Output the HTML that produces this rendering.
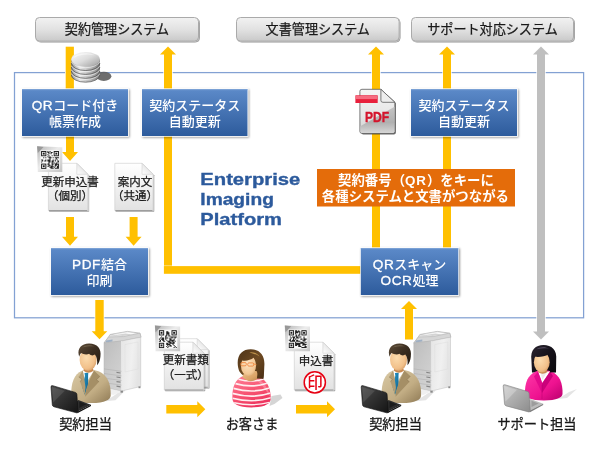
<!DOCTYPE html>
<html lang="ja">
<head>
<meta charset="utf-8">
<title>Enterprise Imaging Platform</title>
<style>
html,body{margin:0;padding:0;background:#fff;}
body{width:600px;height:450px;overflow:hidden;}
svg{display:block;}
svg text{font-family:'Liberation Sans','Noto Sans CJK JP',sans-serif;}
svg{will-change:transform;transform:translateZ(0);}
</style>
</head>
<body>
<svg width="600" height="450" viewBox="0 0 600 450">
<defs>
<linearGradient id="gGray" x1="0" y1="0" x2="0" y2="1">
  <stop offset="0" stop-color="#f2f2f2"/><stop offset="0.5" stop-color="#e2e2e2"/><stop offset="1" stop-color="#c9c9c9"/>
</linearGradient>
<linearGradient id="gBlue" x1="0" y1="0" x2="0" y2="1">
  <stop offset="0" stop-color="#5c8ac9"/><stop offset="1" stop-color="#2d5b9c"/>
</linearGradient>
<linearGradient id="gDoc" x1="0" y1="0" x2="0" y2="1">
  <stop offset="0" stop-color="#ffffff"/><stop offset="1" stop-color="#e2e2e2"/>
</linearGradient>
<linearGradient id="gPdf" x1="0" y1="0" x2="0" y2="1">
  <stop offset="0" stop-color="#f4f4f4"/><stop offset="0.6" stop-color="#e6e6e6"/><stop offset="1" stop-color="#cfcfcf"/>
</linearGradient>
<linearGradient id="gDisk" x1="0" y1="0" x2="1" y2="0">
  <stop offset="0" stop-color="#8e8e8e"/><stop offset="0.3" stop-color="#e6e6e6"/><stop offset="0.65" stop-color="#b8b8b8"/><stop offset="1" stop-color="#7a7a7a"/>
</linearGradient>
<linearGradient id="gDiskTop" x1="0" y1="0" x2="1" y2="1">
  <stop offset="0" stop-color="#fbfbfb"/><stop offset="0.5" stop-color="#dcdcdc"/><stop offset="1" stop-color="#9c9c9c"/>
</linearGradient>
<radialGradient id="gSkin" cx="0.4" cy="0.4" r="0.7">
  <stop offset="0" stop-color="#fcdcae"/><stop offset="0.7" stop-color="#f1c08a"/><stop offset="1" stop-color="#d29860"/>
</radialGradient>
<linearGradient id="gSuit" x1="0" y1="0" x2="1" y2="1">
  <stop offset="0" stop-color="#d9c9a5"/><stop offset="0.6" stop-color="#c2ad84"/><stop offset="1" stop-color="#8f7a55"/>
</linearGradient>
<linearGradient id="gMag" x1="0" y1="0" x2="1" y2="1">
  <stop offset="0" stop-color="#ff3aa8"/><stop offset="0.6" stop-color="#ee1290"/><stop offset="1" stop-color="#b8006c"/>
</linearGradient>
<linearGradient id="gPink" x1="0.2" y1="0" x2="0.7" y2="1">
  <stop offset="0" stop-color="#ff7a92"/><stop offset="0.55" stop-color="#f6506f"/><stop offset="1" stop-color="#ec2f5c"/>
</linearGradient>
<linearGradient id="gNeckC" x1="0" y1="0" x2="1" y2="1">
  <stop offset="0" stop-color="#eec08a"/><stop offset="0.6" stop-color="#dba468"/><stop offset="1" stop-color="#b98248"/>
</linearGradient>
<linearGradient id="gPrnF" x1="0" y1="0" x2="1" y2="0.3">
  <stop offset="0" stop-color="#e6e6e6"/><stop offset="0.6" stop-color="#f0f0f0"/><stop offset="1" stop-color="#e4e4e4"/>
</linearGradient>
<linearGradient id="gPrnS" x1="0" y1="0" x2="0.6" y2="1">
  <stop offset="0" stop-color="#bcbcbc"/><stop offset="0.5" stop-color="#c8c8c8"/><stop offset="1" stop-color="#d2d2d2"/>
</linearGradient>
<linearGradient id="gLapG" x1="0" y1="0" x2="1" y2="1">
  <stop offset="0" stop-color="#c8c8c8"/><stop offset="1" stop-color="#8c8c8c"/>
</linearGradient>
<linearGradient id="gLapB" x1="0" y1="0" x2="1" y2="1">
  <stop offset="0" stop-color="#4a4a4a"/><stop offset="1" stop-color="#141414"/>
</linearGradient>
<filter id="sh" x="-10%" y="-10%" width="125%" height="130%">
  <feGaussianBlur in="SourceAlpha" stdDeviation="0.9"/>
  <feOffset dx="0.6" dy="1.3"/>
  <feComponentTransfer><feFuncA type="linear" slope="0.42"/></feComponentTransfer>
  <feMerge><feMergeNode/><feMergeNode in="SourceGraphic"/></feMerge>
</filter>
<filter id="shs" x="-10%" y="-10%" width="125%" height="130%">
  <feGaussianBlur in="SourceAlpha" stdDeviation="0.7"/>
  <feOffset dx="0.5" dy="0.8"/>
  <feComponentTransfer><feFuncA type="linear" slope="0.35"/></feComponentTransfer>
  <feMerge><feMergeNode/><feMergeNode in="SourceGraphic"/></feMerge>
</filter>
<filter id="blur1"><feGaussianBlur stdDeviation="1.2"/></filter>
<filter id="blur05" x="-30%" y="-30%" width="160%" height="160%"><feGaussianBlur stdDeviation="0.7"/></filter>
<linearGradient id="gQr" x1="0" y1="0" x2="1" y2="1">
  <stop offset="0" stop-color="#b4b4b4"/><stop offset="0.45" stop-color="#ececec"/><stop offset="1" stop-color="#c4c4c4"/>
</linearGradient>
<linearGradient id="gFold" x1="0" y1="1" x2="1" y2="0">
  <stop offset="0" stop-color="#ffffff"/><stop offset="0.5" stop-color="#e9e9e9"/><stop offset="1" stop-color="#d2d2d2"/>
</linearGradient>
<linearGradient id="gPdf2" x1="0" y1="0" x2="0" y2="1">
  <stop offset="0" stop-color="#c4c4c4"/><stop offset="0.6" stop-color="#b0b0b0"/><stop offset="1" stop-color="#d6d6d6"/>
</linearGradient>
<linearGradient id="gTie" x1="0" y1="0" x2="1" y2="1">
  <stop offset="0" stop-color="#2a9acb"/><stop offset="1" stop-color="#0d5f8a"/>
</linearGradient>
<linearGradient id="gHairM" x1="0" y1="0" x2="1" y2="1">
  <stop offset="0" stop-color="#5e4c38"/><stop offset="0.5" stop-color="#3a2d20"/><stop offset="1" stop-color="#221910"/>
</linearGradient>
<linearGradient id="gHairW" x1="0" y1="0" x2="1" y2="1">
  <stop offset="0" stop-color="#2a2430"/><stop offset="0.5" stop-color="#15121a"/><stop offset="1" stop-color="#0a090c"/>
</linearGradient>
<linearGradient id="gHairC" x1="0" y1="0" x2="1" y2="1">
  <stop offset="0" stop-color="#4e3418"/><stop offset="0.5" stop-color="#6e4a22"/><stop offset="1" stop-color="#4a2f14"/>
</linearGradient>
<radialGradient id="gSkinC" cx="0.45" cy="0.4" r="0.75">
  <stop offset="0" stop-color="#fde4c4"/><stop offset="0.65" stop-color="#f3c896"/><stop offset="1" stop-color="#cf9a62"/>
</radialGradient>
<clipPath id="cpCust"><path d="M-5,50 C-5.6,39.5 -3,31.5 4.4,27.6 C9,29 17,29.4 22,28 C29.6,31.5 33.6,39.5 33.2,50 C33,54.6 27.5,58.4 14,58.4 C0.6,58.4 -4.8,54.6 -5,50 Z"/></clipPath>
</defs>
<rect width="600" height="450" fill="#fff"/>
<rect x="14.5" y="72.6" width="569.1" height="245.2" fill="none" stroke="#83a1d3" stroke-width="1.25"/>
<rect x="65.7" y="46.7" width="8.2" height="43" fill="#ffc000" stroke="#fff" stroke-width="1.4" paint-order="stroke"/>
<path d="M168,46.5 L176,54.5 L172,54.5 L172,270 L164,270 L164,54.5 L160,54.5 Z" fill="#ffc000" stroke="#fff" stroke-width="1.4" paint-order="stroke"/>
<rect x="163.9" y="266.1" width="198" height="7.7" fill="#ffc000" stroke="#fff" stroke-width="1.4" paint-order="stroke" stroke-opacity="0.6"/>
<path d="M376,46.5 L384,54.5 L380,54.5 L380,249 L372,249 L372,54.5 L368,54.5 Z" fill="#ffc000" stroke="#fff" stroke-width="1.4" paint-order="stroke"/>
<path d="M447,46.5 L455,54.5 L451,54.5 L451,249 L443,249 L443,54.5 L439,54.5 Z" fill="#ffc000" stroke="#fff" stroke-width="1.4" paint-order="stroke"/>
<path d="M541,46.5 L549,54.5 L545,54.5 L545,331.5 L549,331.5 L541,339.5 L533,331.5 L537,331.5 L537,54.5 L533,54.5 Z" fill="#bfbfbf" stroke="#fff" stroke-width="1.4" paint-order="stroke"/>
<path d="M70,161 L78,152 L74,152 L74,135 L66,135 L66,152 L62,152 Z" fill="#ffc000" stroke="#fff" stroke-width="1.4" paint-order="stroke"/>
<path d="M70,245.7 L78,236.7 L74,236.7 L74,217 L66,217 L66,236.7 L62,236.7 Z" fill="#ffc000" stroke="#fff" stroke-width="1.4" paint-order="stroke"/>
<path d="M133.6,245.7 L141.6,236.7 L137.6,236.7 L137.6,217 L129.6,217 L129.6,236.7 L125.6,236.7 Z" fill="#ffc000" stroke="#fff" stroke-width="1.4" paint-order="stroke"/>
<path d="M99.5,339.2 L107.3,331.2 L103.7,331.2 L103.7,300 L95.3,300 L95.3,331.2 L91.7,331.2 Z" fill="#ffc000" stroke="#fff" stroke-width="1.4" paint-order="stroke"/>
<path d="M409,301 L417,309 L413,309 L413,339.5 L405,339.5 L405,309 L401,309 Z" fill="#ffc000" stroke="#fff" stroke-width="1.4" paint-order="stroke"/>
<path d="M205.3,409.3 L197.3,401.3 L197.3,405.1 L166.3,405.1 L166.3,413.5 L197.3,413.5 L197.3,417.3 Z" fill="#ffc000"/>
<path d="M335,409.3 L327,401.3 L327,405.1 L296,405.1 L296,413.5 L327,413.5 L327,417.3 Z" fill="#ffc000"/>
<g filter="url(#shs)"><rect x="35.5" y="17.5" width="163" height="23.6" rx="4" ry="4" fill="url(#gGray)" stroke="#aaaaaa" stroke-width="1"/></g><text x="117.0" y="34.3" font-size="13.1" text-anchor="middle" fill="#1a1a1a" stroke="#1a1a1a" stroke-width="0.25">契約管理システム</text>
<g filter="url(#shs)"><rect x="236.5" y="17.5" width="162.60000000000002" height="23.6" rx="4" ry="4" fill="url(#gGray)" stroke="#aaaaaa" stroke-width="1"/></g><text x="317.8" y="34.3" font-size="13.1" text-anchor="middle" fill="#1a1a1a" stroke="#1a1a1a" stroke-width="0.25">文書管理システム</text>
<g filter="url(#shs)"><rect x="411.5" y="17.5" width="162" height="23.6" rx="4" ry="4" fill="url(#gGray)" stroke="#aaaaaa" stroke-width="1"/></g><text x="492.5" y="34.3" font-size="13.1" text-anchor="middle" fill="#1a1a1a" stroke="#1a1a1a" stroke-width="0.25">サポート対応システム</text>
<g filter="url(#sh)"><rect x="21.4" y="88.4" width="107.2" height="48.2" fill="#fff"/></g><rect x="22" y="89" width="106" height="47" fill="url(#gBlue)"/><rect x="22" y="89" width="106" height="1.2" fill="#8fb0de" opacity="0.6"/><text x="75.0" y="109.8" font-size="13" font-weight="500" text-anchor="middle" fill="#fff"><tspan font-size="13.6" letter-spacing="0.55" stroke="#fff" stroke-width="0.3">QR</tspan>コード付き</text><text x="75.0" y="126.3" font-size="13" font-weight="500" text-anchor="middle" fill="#fff">帳票作成</text>
<g filter="url(#sh)"><rect x="141.4" y="88.4" width="106.7" height="48.2" fill="#fff"/></g><rect x="142" y="89" width="105.5" height="47" fill="url(#gBlue)"/><rect x="142" y="89" width="105.5" height="1.2" fill="#8fb0de" opacity="0.6"/><text x="194.75" y="109.8" font-size="13" font-weight="500" text-anchor="middle" fill="#fff">契約ステータス</text><text x="194.75" y="126.3" font-size="13" font-weight="500" text-anchor="middle" fill="#fff">自動更新</text>
<g filter="url(#sh)"><rect x="410.4" y="88.4" width="107.2" height="48.2" fill="#fff"/></g><rect x="411" y="89" width="106" height="47" fill="url(#gBlue)"/><rect x="411" y="89" width="106" height="1.2" fill="#8fb0de" opacity="0.6"/><text x="464.0" y="109.8" font-size="13" font-weight="500" text-anchor="middle" fill="#fff">契約ステータス</text><text x="464.0" y="126.3" font-size="13" font-weight="500" text-anchor="middle" fill="#fff">自動更新</text>
<g filter="url(#sh)"><rect x="50.4" y="247.4" width="98.2" height="48.2" fill="#fff"/></g><rect x="51" y="248" width="97" height="47" fill="url(#gBlue)"/><rect x="51" y="248" width="97" height="1.2" fill="#8fb0de" opacity="0.6"/><text x="99.5" y="268.8" font-size="13" font-weight="500" text-anchor="middle" fill="#fff"><tspan font-size="13.6" letter-spacing="0.55" stroke="#fff" stroke-width="0.3">PDF</tspan>結合</text><text x="99.5" y="285.3" font-size="13" font-weight="500" text-anchor="middle" fill="#fff">印刷</text>
<g filter="url(#sh)"><rect x="360.2" y="247.4" width="98.7" height="48.2" fill="#fff"/></g><rect x="360.8" y="248" width="97.5" height="47" fill="url(#gBlue)"/><rect x="360.8" y="248" width="97.5" height="1.2" fill="#8fb0de" opacity="0.6"/><text x="409.55" y="268.8" font-size="13" font-weight="500" text-anchor="middle" fill="#fff"><tspan font-size="13.6" letter-spacing="0.55" stroke="#fff" stroke-width="0.3">QR</tspan>スキャン</text><text x="409.55" y="285.3" font-size="13" font-weight="500" text-anchor="middle" fill="#fff"><tspan font-size="13.6" letter-spacing="0.55" stroke="#fff" stroke-width="0.3">OCR</tspan>処理</text>
<rect x="317" y="169" width="198" height="37.5" fill="#e46c0a"/>
<text x="416" y="184.6" font-size="13.4" font-weight="bold" text-anchor="middle" fill="#fff">契約番号（<tspan letter-spacing="0.9">QR</tspan>）をキーに</text>
<text x="415.4" y="201.2" font-size="13.4" font-weight="bold" text-anchor="middle" fill="#fff">各種システムと文書がつながる</text>
<text x="200.3" y="184.5" font-size="16.5" font-weight="bold" fill="#2c5a9c" stroke="#2c5a9c" stroke-width="0.35" textLength="100" lengthAdjust="spacingAndGlyphs">Enterprise</text>
<text x="200.3" y="204.5" font-size="16.5" font-weight="bold" fill="#2c5a9c" stroke="#2c5a9c" stroke-width="0.35" textLength="73.6" lengthAdjust="spacingAndGlyphs">Imaging</text>
<text x="200.3" y="224.5" font-size="16.5" font-weight="bold" fill="#2c5a9c" stroke="#2c5a9c" stroke-width="0.35" textLength="81.6" lengthAdjust="spacingAndGlyphs">Platform</text>
<g transform="translate(71.3,52)"><ellipse cx="32.5" cy="24.3" rx="7.6" ry="4.6" fill="#5f5f5f" opacity="0.9" filter="url(#blur05)"/><path d="M0,19.00 L0,22.90 A14.3,7.3 0 0 0 28.6,22.90 L28.6,19.00 Z" fill="url(#gDisk)"/><path d="M0,22.90 A14.3,7.3 0 0 0 28.6,22.90" fill="none" stroke="#4a4a4a" stroke-width="0.9" opacity="0.75"/><path d="M0.3,21.60 A14.3,7.3 0 0 0 28.3,21.60" fill="none" stroke="#ffffff" stroke-width="1.1" opacity="0.55"/><path d="M0,15.10 L0,19.00 A14.3,7.3 0 0 0 28.6,19.00 L28.6,15.10 Z" fill="url(#gDisk)"/><path d="M0,19.00 A14.3,7.3 0 0 0 28.6,19.00" fill="none" stroke="#4a4a4a" stroke-width="0.9" opacity="0.75"/><path d="M0.3,17.70 A14.3,7.3 0 0 0 28.3,17.70" fill="none" stroke="#ffffff" stroke-width="1.1" opacity="0.55"/><path d="M0,11.20 L0,15.10 A14.3,7.3 0 0 0 28.6,15.10 L28.6,11.20 Z" fill="url(#gDisk)"/><path d="M0,15.10 A14.3,7.3 0 0 0 28.6,15.10" fill="none" stroke="#4a4a4a" stroke-width="0.9" opacity="0.75"/><path d="M0.3,13.80 A14.3,7.3 0 0 0 28.3,13.80" fill="none" stroke="#ffffff" stroke-width="1.1" opacity="0.55"/><path d="M0,7.30 L0,11.20 A14.3,7.3 0 0 0 28.6,11.20 L28.6,7.30 Z" fill="url(#gDisk)"/><path d="M0,11.20 A14.3,7.3 0 0 0 28.6,11.20" fill="none" stroke="#4a4a4a" stroke-width="0.9" opacity="0.75"/><path d="M0.3,9.90 A14.3,7.3 0 0 0 28.3,9.90" fill="none" stroke="#ffffff" stroke-width="1.1" opacity="0.55"/><ellipse cx="14.3" cy="7.3" rx="14.3" ry="7.3" fill="url(#gDiskTop)"/><path d="M2,6.3 A12.3,5.8 0 0 1 23.6,3.3 A18.3,10.3 0 0 0 2,6.3 Z" fill="#fff" opacity="0.55"/></g>
<g filter="url(#shs)"><path d="M48.4,163.3 L76.8,163.3 L87.8,174.3 L87.8,210.5 L48.4,210.5 Z" fill="url(#gDoc)" stroke="#cdcdcd" stroke-width="0.6"/></g><path d="M76.8,163.3 L76.8,174.3 L87.8,174.3 Z" fill="url(#gFold)" stroke="#c8c8c8" stroke-width="0.5"/><path d="M49.0,210.5 L87.2,210.5" stroke="#8c8c8c" stroke-width="1" opacity="0.75" fill="none"/>
<g transform="translate(37.5,147)"><path d="M-0.4,-0.8 L24.8,0.3 L24.8,25 L0.3,25 Z" fill="url(#gQr)"/><path d="M-0.4,-0.8 L6,0 L0.3,6 Z" fill="#8f8f8f" opacity="0.8"/><rect x="3" y="3.4" width="19" height="19" fill="#fbfbfb"/><path d="M9.90,4.00h1.05v1.05h-1.05zM12.00,4.00h1.05v1.05h-1.05zM9.90,5.05h1.05v1.05h-1.05zM10.95,5.05h1.05v1.05h-1.05zM13.05,5.05h1.05v1.05h-1.05zM14.10,5.05h1.05v1.05h-1.05zM10.95,6.10h1.05v1.05h-1.05zM13.05,6.10h1.05v1.05h-1.05zM9.90,7.15h1.05v1.05h-1.05zM10.95,8.20h1.05v1.05h-1.05zM14.10,8.20h1.05v1.05h-1.05zM9.90,9.25h1.05v1.05h-1.05zM12.00,9.25h1.05v1.05h-1.05zM5.70,10.30h1.05v1.05h-1.05zM7.80,10.30h1.05v1.05h-1.05zM10.95,10.30h1.05v1.05h-1.05zM12.00,10.30h1.05v1.05h-1.05zM13.05,10.30h1.05v1.05h-1.05zM15.15,10.30h1.05v1.05h-1.05zM17.25,10.30h1.05v1.05h-1.05zM18.30,10.30h1.05v1.05h-1.05zM19.35,10.30h1.05v1.05h-1.05zM20.40,10.30h1.05v1.05h-1.05zM12.00,11.35h1.05v1.05h-1.05zM18.30,11.35h1.05v1.05h-1.05zM3.60,12.40h1.05v1.05h-1.05zM4.65,12.40h1.05v1.05h-1.05zM7.80,12.40h1.05v1.05h-1.05zM9.90,12.40h1.05v1.05h-1.05zM10.95,12.40h1.05v1.05h-1.05zM12.00,12.40h1.05v1.05h-1.05zM15.15,12.40h1.05v1.05h-1.05zM17.25,12.40h1.05v1.05h-1.05zM19.35,12.40h1.05v1.05h-1.05zM4.65,13.45h1.05v1.05h-1.05zM6.75,13.45h1.05v1.05h-1.05zM7.80,13.45h1.05v1.05h-1.05zM9.90,13.45h1.05v1.05h-1.05zM10.95,13.45h1.05v1.05h-1.05zM12.00,13.45h1.05v1.05h-1.05zM14.10,13.45h1.05v1.05h-1.05zM15.15,13.45h1.05v1.05h-1.05zM17.25,13.45h1.05v1.05h-1.05zM20.40,13.45h1.05v1.05h-1.05zM3.60,14.50h1.05v1.05h-1.05zM10.95,14.50h1.05v1.05h-1.05zM12.00,14.50h1.05v1.05h-1.05zM14.10,14.50h1.05v1.05h-1.05zM15.15,14.50h1.05v1.05h-1.05zM19.35,14.50h1.05v1.05h-1.05zM20.40,14.50h1.05v1.05h-1.05zM10.95,15.55h1.05v1.05h-1.05zM14.10,15.55h1.05v1.05h-1.05zM16.20,15.55h1.05v1.05h-1.05zM18.30,15.55h1.05v1.05h-1.05zM9.90,16.60h1.05v1.05h-1.05zM10.95,16.60h1.05v1.05h-1.05zM14.10,16.60h1.05v1.05h-1.05zM15.15,16.60h1.05v1.05h-1.05zM17.25,16.60h1.05v1.05h-1.05zM18.30,16.60h1.05v1.05h-1.05zM19.35,16.60h1.05v1.05h-1.05zM20.40,16.60h1.05v1.05h-1.05zM10.95,17.65h1.05v1.05h-1.05zM12.00,17.65h1.05v1.05h-1.05zM14.10,17.65h1.05v1.05h-1.05zM17.25,17.65h1.05v1.05h-1.05zM18.30,17.65h1.05v1.05h-1.05zM20.40,17.65h1.05v1.05h-1.05zM9.90,18.70h1.05v1.05h-1.05zM10.95,18.70h1.05v1.05h-1.05zM13.05,18.70h1.05v1.05h-1.05zM14.10,18.70h1.05v1.05h-1.05zM15.15,18.70h1.05v1.05h-1.05zM17.25,18.70h1.05v1.05h-1.05zM19.35,18.70h1.05v1.05h-1.05zM20.40,18.70h1.05v1.05h-1.05zM12.00,19.75h1.05v1.05h-1.05zM13.05,19.75h1.05v1.05h-1.05zM14.10,19.75h1.05v1.05h-1.05zM16.20,19.75h1.05v1.05h-1.05zM19.35,19.75h1.05v1.05h-1.05zM20.40,19.75h1.05v1.05h-1.05zM13.05,20.80h1.05v1.05h-1.05zM14.10,20.80h1.05v1.05h-1.05zM15.15,20.80h1.05v1.05h-1.05zM17.25,20.80h1.05v1.05h-1.05zM18.30,20.80h1.05v1.05h-1.05zM19.35,20.80h1.05v1.05h-1.05zM20.40,20.80h1.05v1.05h-1.05z" fill="#222"/><rect x="3.60" y="4.00" width="5.25" height="5.25" fill="#1c1c1c"/><rect x="4.54" y="4.95" width="3.36" height="3.36" fill="#f4f4f4"/><rect x="5.28" y="5.68" width="1.89" height="1.89" fill="#1c1c1c"/><rect x="16.20" y="4.00" width="5.25" height="5.25" fill="#1c1c1c"/><rect x="17.15" y="4.95" width="3.36" height="3.36" fill="#f4f4f4"/><rect x="17.88" y="5.68" width="1.89" height="1.89" fill="#1c1c1c"/><rect x="3.60" y="16.60" width="5.25" height="5.25" fill="#1c1c1c"/><rect x="4.54" y="17.55" width="3.36" height="3.36" fill="#f4f4f4"/><rect x="5.28" y="18.28" width="1.89" height="1.89" fill="#1c1c1c"/></g>
<text x="70" y="186.1" font-size="11.5" text-anchor="middle" fill="#1a1a1a" stroke="#1a1a1a" stroke-width="0.25">更新申込書</text><text x="70" y="200.4" font-size="11.5" text-anchor="middle" fill="#1a1a1a" stroke="#1a1a1a" stroke-width="0.25">（個別）</text>
<g filter="url(#shs)"><path d="M114.8,163.3 L142.0,163.3 L153.0,174.3 L153.0,210.5 L114.8,210.5 Z" fill="url(#gDoc)" stroke="#cdcdcd" stroke-width="0.6"/></g><path d="M142.0,163.3 L142.0,174.3 L153.0,174.3 Z" fill="url(#gFold)" stroke="#c8c8c8" stroke-width="0.5"/><path d="M115.39999999999999,210.5 L152.4,210.5" stroke="#8c8c8c" stroke-width="1" opacity="0.75" fill="none"/>
<text x="135" y="186.1" font-size="11.5" text-anchor="middle" fill="#1a1a1a" stroke="#1a1a1a" stroke-width="0.25">案内文</text><text x="135" y="200.4" font-size="11.5" text-anchor="middle" fill="#1a1a1a" stroke="#1a1a1a" stroke-width="0.25">（共通）</text>
<g filter="url(#shs)"><path d="M168.6,338.7 L197.2,338.7 L208.2,349.7 L208.2,387.3 L168.6,387.3 Z" fill="url(#gDoc)" stroke="#cdcdcd" stroke-width="0.6"/></g><path d="M197.2,338.7 L197.2,349.7 L208.2,349.7 Z" fill="url(#gFold)" stroke="#c8c8c8" stroke-width="0.5"/><path d="M169.2,387.3 L207.6,387.3" stroke="#8c8c8c" stroke-width="1" opacity="0.75" fill="none"/>
<g filter="url(#shs)"><path d="M164.3,342.2 L192.9,342.2 L203.9,353.2 L203.9,390.0 L164.3,390.0 Z" fill="url(#gDoc)" stroke="#cdcdcd" stroke-width="0.6"/></g><path d="M192.9,342.2 L192.9,353.2 L203.9,353.2 Z" fill="url(#gFold)" stroke="#c8c8c8" stroke-width="0.5"/><path d="M164.9,390.0 L203.3,390.0" stroke="#8c8c8c" stroke-width="1" opacity="0.75" fill="none"/>
<g transform="translate(155.3,326.2)"><path d="M-0.4,-0.8 L24.8,0.3 L24.8,25 L0.3,25 Z" fill="url(#gQr)"/><path d="M-0.4,-0.8 L6,0 L0.3,6 Z" fill="#8f8f8f" opacity="0.8"/><rect x="3" y="3.4" width="19" height="19" fill="#fbfbfb"/><path d="M10.95,5.05h1.05v1.05h-1.05zM12.00,5.05h1.05v1.05h-1.05zM10.95,6.10h1.05v1.05h-1.05zM12.00,6.10h1.05v1.05h-1.05zM13.05,6.10h1.05v1.05h-1.05zM10.95,7.15h1.05v1.05h-1.05zM12.00,7.15h1.05v1.05h-1.05zM13.05,7.15h1.05v1.05h-1.05zM10.95,8.20h1.05v1.05h-1.05zM13.05,8.20h1.05v1.05h-1.05zM9.90,9.25h1.05v1.05h-1.05zM10.95,9.25h1.05v1.05h-1.05zM13.05,9.25h1.05v1.05h-1.05zM14.10,9.25h1.05v1.05h-1.05zM5.70,10.30h1.05v1.05h-1.05zM9.90,10.30h1.05v1.05h-1.05zM15.15,10.30h1.05v1.05h-1.05zM16.20,10.30h1.05v1.05h-1.05zM17.25,10.30h1.05v1.05h-1.05zM18.30,10.30h1.05v1.05h-1.05zM19.35,10.30h1.05v1.05h-1.05zM20.40,10.30h1.05v1.05h-1.05zM4.65,11.35h1.05v1.05h-1.05zM6.75,11.35h1.05v1.05h-1.05zM7.80,11.35h1.05v1.05h-1.05zM9.90,11.35h1.05v1.05h-1.05zM10.95,11.35h1.05v1.05h-1.05zM12.00,11.35h1.05v1.05h-1.05zM14.10,11.35h1.05v1.05h-1.05zM16.20,11.35h1.05v1.05h-1.05zM19.35,11.35h1.05v1.05h-1.05zM3.60,12.40h1.05v1.05h-1.05zM5.70,12.40h1.05v1.05h-1.05zM6.75,12.40h1.05v1.05h-1.05zM7.80,12.40h1.05v1.05h-1.05zM9.90,12.40h1.05v1.05h-1.05zM14.10,12.40h1.05v1.05h-1.05zM15.15,12.40h1.05v1.05h-1.05zM18.30,12.40h1.05v1.05h-1.05zM4.65,13.45h1.05v1.05h-1.05zM6.75,13.45h1.05v1.05h-1.05zM7.80,13.45h1.05v1.05h-1.05zM10.95,13.45h1.05v1.05h-1.05zM14.10,13.45h1.05v1.05h-1.05zM15.15,13.45h1.05v1.05h-1.05zM16.20,13.45h1.05v1.05h-1.05zM17.25,13.45h1.05v1.05h-1.05zM18.30,13.45h1.05v1.05h-1.05zM3.60,14.50h1.05v1.05h-1.05zM4.65,14.50h1.05v1.05h-1.05zM7.80,14.50h1.05v1.05h-1.05zM8.85,14.50h1.05v1.05h-1.05zM12.00,14.50h1.05v1.05h-1.05zM13.05,14.50h1.05v1.05h-1.05zM14.10,14.50h1.05v1.05h-1.05zM16.20,14.50h1.05v1.05h-1.05zM17.25,14.50h1.05v1.05h-1.05zM19.35,14.50h1.05v1.05h-1.05zM13.05,15.55h1.05v1.05h-1.05zM14.10,15.55h1.05v1.05h-1.05zM15.15,15.55h1.05v1.05h-1.05zM17.25,15.55h1.05v1.05h-1.05zM18.30,15.55h1.05v1.05h-1.05zM10.95,16.60h1.05v1.05h-1.05zM12.00,16.60h1.05v1.05h-1.05zM14.10,16.60h1.05v1.05h-1.05zM15.15,16.60h1.05v1.05h-1.05zM16.20,16.60h1.05v1.05h-1.05zM17.25,16.60h1.05v1.05h-1.05zM18.30,16.60h1.05v1.05h-1.05zM10.95,17.65h1.05v1.05h-1.05zM12.00,17.65h1.05v1.05h-1.05zM13.05,17.65h1.05v1.05h-1.05zM14.10,17.65h1.05v1.05h-1.05zM17.25,17.65h1.05v1.05h-1.05zM12.00,18.70h1.05v1.05h-1.05zM14.10,18.70h1.05v1.05h-1.05zM15.15,18.70h1.05v1.05h-1.05zM18.30,18.70h1.05v1.05h-1.05zM10.95,19.75h1.05v1.05h-1.05zM13.05,19.75h1.05v1.05h-1.05zM15.15,19.75h1.05v1.05h-1.05zM19.35,19.75h1.05v1.05h-1.05zM12.00,20.80h1.05v1.05h-1.05zM18.30,20.80h1.05v1.05h-1.05zM20.40,20.80h1.05v1.05h-1.05z" fill="#222"/><rect x="3.60" y="4.00" width="5.25" height="5.25" fill="#1c1c1c"/><rect x="4.54" y="4.95" width="3.36" height="3.36" fill="#f4f4f4"/><rect x="5.28" y="5.68" width="1.89" height="1.89" fill="#1c1c1c"/><rect x="16.20" y="4.00" width="5.25" height="5.25" fill="#1c1c1c"/><rect x="17.15" y="4.95" width="3.36" height="3.36" fill="#f4f4f4"/><rect x="17.88" y="5.68" width="1.89" height="1.89" fill="#1c1c1c"/><rect x="3.60" y="16.60" width="5.25" height="5.25" fill="#1c1c1c"/><rect x="4.54" y="17.55" width="3.36" height="3.36" fill="#f4f4f4"/><rect x="5.28" y="18.28" width="1.89" height="1.89" fill="#1c1c1c"/></g>
<text x="185.8" y="364.2" font-size="11.5" text-anchor="middle" fill="#1a1a1a" stroke="#1a1a1a" stroke-width="0.25">更新書類</text><text x="185.8" y="378.5" font-size="11.5" text-anchor="middle" fill="#1a1a1a" stroke="#1a1a1a" stroke-width="0.25">（一式）</text>
<g filter="url(#shs)"><path d="M294.3,342.2 L322.90000000000003,342.2 L333.90000000000003,353.2 L333.90000000000003,390.0 L294.3,390.0 Z" fill="url(#gDoc)" stroke="#cdcdcd" stroke-width="0.6"/></g><path d="M322.90000000000003,342.2 L322.90000000000003,353.2 L333.90000000000003,353.2 Z" fill="url(#gFold)" stroke="#c8c8c8" stroke-width="0.5"/><path d="M294.90000000000003,390.0 L333.3,390.0" stroke="#8c8c8c" stroke-width="1" opacity="0.75" fill="none"/>
<g transform="translate(285.2,326.2)"><path d="M-0.4,-0.8 L24.8,0.3 L24.8,25 L0.3,25 Z" fill="url(#gQr)"/><path d="M-0.4,-0.8 L6,0 L0.3,6 Z" fill="#8f8f8f" opacity="0.8"/><rect x="3" y="3.4" width="19" height="19" fill="#fbfbfb"/><path d="M9.90,4.00h1.05v1.05h-1.05zM10.95,4.00h1.05v1.05h-1.05zM13.05,4.00h1.05v1.05h-1.05zM9.90,5.05h1.05v1.05h-1.05zM10.95,5.05h1.05v1.05h-1.05zM12.00,5.05h1.05v1.05h-1.05zM13.05,5.05h1.05v1.05h-1.05zM14.10,5.05h1.05v1.05h-1.05zM9.90,6.10h1.05v1.05h-1.05zM10.95,6.10h1.05v1.05h-1.05zM12.00,6.10h1.05v1.05h-1.05zM14.10,6.10h1.05v1.05h-1.05zM9.90,7.15h1.05v1.05h-1.05zM14.10,7.15h1.05v1.05h-1.05zM10.95,8.20h1.05v1.05h-1.05zM13.05,8.20h1.05v1.05h-1.05zM14.10,8.20h1.05v1.05h-1.05zM9.90,9.25h1.05v1.05h-1.05zM10.95,9.25h1.05v1.05h-1.05zM13.05,9.25h1.05v1.05h-1.05zM4.65,10.30h1.05v1.05h-1.05zM6.75,10.30h1.05v1.05h-1.05zM7.80,10.30h1.05v1.05h-1.05zM8.85,10.30h1.05v1.05h-1.05zM10.95,10.30h1.05v1.05h-1.05zM12.00,10.30h1.05v1.05h-1.05zM14.10,10.30h1.05v1.05h-1.05zM15.15,10.30h1.05v1.05h-1.05zM18.30,10.30h1.05v1.05h-1.05zM5.70,11.35h1.05v1.05h-1.05zM7.80,11.35h1.05v1.05h-1.05zM8.85,11.35h1.05v1.05h-1.05zM10.95,11.35h1.05v1.05h-1.05zM12.00,11.35h1.05v1.05h-1.05zM13.05,11.35h1.05v1.05h-1.05zM18.30,11.35h1.05v1.05h-1.05zM4.65,12.40h1.05v1.05h-1.05zM7.80,12.40h1.05v1.05h-1.05zM9.90,12.40h1.05v1.05h-1.05zM15.15,12.40h1.05v1.05h-1.05zM16.20,12.40h1.05v1.05h-1.05zM18.30,12.40h1.05v1.05h-1.05zM19.35,12.40h1.05v1.05h-1.05zM20.40,12.40h1.05v1.05h-1.05zM3.60,13.45h1.05v1.05h-1.05zM4.65,13.45h1.05v1.05h-1.05zM6.75,13.45h1.05v1.05h-1.05zM7.80,13.45h1.05v1.05h-1.05zM8.85,13.45h1.05v1.05h-1.05zM10.95,13.45h1.05v1.05h-1.05zM12.00,13.45h1.05v1.05h-1.05zM17.25,13.45h1.05v1.05h-1.05zM18.30,13.45h1.05v1.05h-1.05zM19.35,13.45h1.05v1.05h-1.05zM4.65,14.50h1.05v1.05h-1.05zM5.70,14.50h1.05v1.05h-1.05zM6.75,14.50h1.05v1.05h-1.05zM7.80,14.50h1.05v1.05h-1.05zM8.85,14.50h1.05v1.05h-1.05zM10.95,14.50h1.05v1.05h-1.05zM12.00,14.50h1.05v1.05h-1.05zM13.05,14.50h1.05v1.05h-1.05zM14.10,14.50h1.05v1.05h-1.05zM18.30,14.50h1.05v1.05h-1.05zM9.90,15.55h1.05v1.05h-1.05zM15.15,15.55h1.05v1.05h-1.05zM16.20,15.55h1.05v1.05h-1.05zM17.25,15.55h1.05v1.05h-1.05zM19.35,15.55h1.05v1.05h-1.05zM20.40,15.55h1.05v1.05h-1.05zM9.90,16.60h1.05v1.05h-1.05zM10.95,16.60h1.05v1.05h-1.05zM12.00,16.60h1.05v1.05h-1.05zM13.05,16.60h1.05v1.05h-1.05zM14.10,16.60h1.05v1.05h-1.05zM15.15,16.60h1.05v1.05h-1.05zM16.20,16.60h1.05v1.05h-1.05zM17.25,16.60h1.05v1.05h-1.05zM18.30,16.60h1.05v1.05h-1.05zM9.90,17.65h1.05v1.05h-1.05zM10.95,17.65h1.05v1.05h-1.05zM12.00,17.65h1.05v1.05h-1.05zM13.05,17.65h1.05v1.05h-1.05zM14.10,17.65h1.05v1.05h-1.05zM17.25,17.65h1.05v1.05h-1.05zM18.30,17.65h1.05v1.05h-1.05zM19.35,17.65h1.05v1.05h-1.05zM20.40,17.65h1.05v1.05h-1.05zM9.90,18.70h1.05v1.05h-1.05zM10.95,18.70h1.05v1.05h-1.05zM13.05,18.70h1.05v1.05h-1.05zM14.10,18.70h1.05v1.05h-1.05zM17.25,18.70h1.05v1.05h-1.05zM19.35,18.70h1.05v1.05h-1.05zM13.05,19.75h1.05v1.05h-1.05zM14.10,19.75h1.05v1.05h-1.05zM15.15,19.75h1.05v1.05h-1.05zM19.35,19.75h1.05v1.05h-1.05zM20.40,19.75h1.05v1.05h-1.05zM16.20,20.80h1.05v1.05h-1.05zM17.25,20.80h1.05v1.05h-1.05zM18.30,20.80h1.05v1.05h-1.05zM19.35,20.80h1.05v1.05h-1.05zM20.40,20.80h1.05v1.05h-1.05z" fill="#222"/><rect x="3.60" y="4.00" width="5.25" height="5.25" fill="#1c1c1c"/><rect x="4.54" y="4.95" width="3.36" height="3.36" fill="#f4f4f4"/><rect x="5.28" y="5.68" width="1.89" height="1.89" fill="#1c1c1c"/><rect x="16.20" y="4.00" width="5.25" height="5.25" fill="#1c1c1c"/><rect x="17.15" y="4.95" width="3.36" height="3.36" fill="#f4f4f4"/><rect x="17.88" y="5.68" width="1.89" height="1.89" fill="#1c1c1c"/><rect x="3.60" y="16.60" width="5.25" height="5.25" fill="#1c1c1c"/><rect x="4.54" y="17.55" width="3.36" height="3.36" fill="#f4f4f4"/><rect x="5.28" y="18.28" width="1.89" height="1.89" fill="#1c1c1c"/></g>
<text x="316" y="364.5" font-size="11.5" text-anchor="middle" fill="#1a1a1a" stroke="#1a1a1a" stroke-width="0.25">申込書</text>
<circle cx="314.8" cy="382.4" r="10.6" fill="#fff" stroke="#e60012" stroke-width="1.5"/>
<text x="315" y="388.3" font-size="15.5" font-weight="500" text-anchor="middle" fill="#e60012">印</text>
<g transform="translate(359.9,89.3)"><path d="M2.6,1.2 L22,1.2 L36,14 L36,43 Q36,45.2 34,45.2 L3.5,45.2 Q1.5,45.2 1.5,43 Z" fill="#3c3c3c" opacity="0.75"/><path d="M2,0 L21,0 L35,13 L35,42 Q35,44 33,44 L2,44 Q0,44 0,42 L0,2 Q0,0 2,0 Z" fill="url(#gPdf)" stroke="#5a5a5a" stroke-width="0.8"/><path d="M0.4,37 L34.6,17.5 L34.6,42 Q34.6,43.6 33,43.6 L2,43.6 Q0.4,43.6 0.4,42 Z" fill="url(#gPdf2)"/><path d="M21,0 L21,11 Q21,13 23,13 L35,13 Z" fill="#ededed" stroke="#5a5a5a" stroke-width="0.8" stroke-linejoin="round"/><rect x="-4.5" y="6" width="22.3" height="7.7" fill="#e8203c"/><rect x="-4" y="6.6" width="21.3" height="3.2" fill="#f87a8c" opacity="0.85"/><text x="5" y="32.7" font-size="14.5" font-weight="bold" fill="#d4142c" stroke="#d4142c" stroke-width="0.4" textLength="24.2" lengthAdjust="spacingAndGlyphs">PDF</text></g>
<g transform="translate(103.5,331)"><path d="M2,57 L18,60.5 L10,64 L-4,61 Z" fill="#000" opacity="0.06"/><path d="M0.5,12 L5,6 L6.5,3.5 L24,0.4 L36.5,2.2 L37.5,6.2 L18,10 Z" fill="#e0e0e0" stroke="#a8a8a8" stroke-width="0.6"/><path d="M8,3.6 L24,0.8 L35,2.4 L20,5.6 Z" fill="#fafafa" stroke="#b8b8b8" stroke-width="0.4"/><path d="M12,4.1 L22,2.4 L29,3.4 L19.5,5.1 Z" fill="#d4d4d4"/><path d="M5,6 L20,5.6 L35,2.4 L36.5,2.2 L37.5,6.2 L18,10 L0.5,12 Z" fill="#d6d6d6" stroke="#a8a8a8" stroke-width="0.4"/><path d="M2.5,9.6 L9,8.6 L9,10.4 L2.2,11.5 Z" fill="#9fb0c4"/><path d="M0.5,12 L18,10 L18,60 L0.5,56.2 Z" fill="url(#gPrnS)" stroke="#b4b4b4" stroke-width="0.5"/><path d="M18,10 L37.2,6.2 L37.2,55.5 L18,60 Z" fill="url(#gPrnF)" stroke="#bcbcbc" stroke-width="0.5"/><path d="M18,10 L18,60" stroke="#f6f6f6" stroke-width="0.7" opacity="0.9"/><path d="M21.5,13.5 L34.5,11 L34.5,38 L21.5,41 Z" fill="none" stroke="#dcdcdc" stroke-width="0.5"/><path d="M0.5,37.9 L18,40.3" stroke="#aaaaaa" stroke-width="0.5" fill="none"/><path d="M13,40.8 L17,41.4 L17,42.6 L13,42.0 Z" fill="#858585"/><path d="M0.5,42.5 L18,44.9" stroke="#aaaaaa" stroke-width="0.5" fill="none"/><path d="M13,45.4 L17,46.0 L17,47.2 L13,46.6 Z" fill="#858585"/><path d="M0.5,47.1 L18,49.5" stroke="#aaaaaa" stroke-width="0.5" fill="none"/><path d="M13,50.0 L17,50.6 L17,51.8 L13,51.2 Z" fill="#858585"/><path d="M0.5,51.7 L18,54.1" stroke="#aaaaaa" stroke-width="0.5" fill="none"/><path d="M13,54.6 L17,55.2 L17,56.4 L13,55.8 Z" fill="#858585"/><rect x="17" y="59.6" width="2.4" height="2" fill="#8c8c8c"/><rect x="35" y="55.4" width="2" height="1.8" fill="#8c8c8c"/></g>
<g transform="translate(77.5,343.2)"><path d="M28,58 L40,50 L48,47 L38,57 Z" fill="#000" opacity="0.10" filter="url(#blur05)"/><path d="M-6.2,52 C-6.6,40 -3.5,31 4.5,27.6 L8,26.5 L15.5,26.5 L21,28 C29.5,31.5 33.6,40 33.2,52 C33,56.6 28,59.8 13.5,59.8 C-1,59.8 -6,56.6 -6.2,52 Z" fill="url(#gSuit)"/><path d="M5.2,27.4 L8.2,42 L11,36 L16.5,27.4 Z" fill="#ffffff"/><path d="M7,29.8 L10.8,29.6 L10.6,32.4 L10.6,42 L7.2,51.5 L4.8,44 L7.4,32.6 Z" fill="url(#gTie)"/><path d="M5.2,27.4 L1.2,33.8 L4.4,36 L2.6,38.6 L7.2,51.5 L8,44 L6.6,34 Z" fill="#b39d74"/><path d="M16.5,27.4 L22.5,33 L19,36.6 L21.6,38.6 L7.6,53.5 L8.4,47 L11.4,38 Z" fill="#a58f66"/><path d="M1.2,33.8 L4.4,36 L2.6,38.6 M22.5,33 L19,36.6 L21.6,38.6" fill="none" stroke="#7d6a48" stroke-width="0.5" opacity="0.8"/><path d="M6.5,24 L15,24 L16,27.6 Q11,31.5 6,27.6 Z" fill="#c98a52"/><ellipse cx="10.6" cy="16.6" rx="8.5" ry="11" fill="url(#gSkin)"/><path d="M1.2,11.5 C0,5 3.8,0.3 11.5,0.2 C19.5,0.1 24.3,5 22.9,13.5 C22.5,17 21.5,20 19.6,22 C20,17.5 19.4,14 17.4,11.4 C15.5,12.8 13,12.2 11.6,10.6 C9.4,11.8 5.6,11.2 3.6,9.8 C2.8,10.8 2,12 1.7,13.6 Z" fill="url(#gHairM)"/><path d="M4.4,4.4 C7.6,1.6 13,1.2 17,3.2 C13,2.8 8.4,3.2 4.4,4.4 Z" fill="#7b6b55" opacity="0.8"/></g>
<g transform="translate(50.8,385.5)"><path d="M27,26 L40.2,19.2 L27.5,14.5 L24,18 Z" fill="#2e2e2e"/><path d="M28.5,22.5 L35.5,18.8 L28.5,16.2 Z" fill="#151515" opacity="0.7"/><path d="M27,26 L40.2,19.2 L40.2,20.5 L27,27.6 Z" fill="#0d0d0d"/><path d="M0.2,1.6 Q0.1,-0.4 2,0.2 L24.6,6.9 Q26,7.4 26.1,9 L27.2,26 Q27.3,27.8 25.6,27.3 L3.2,21.3 Q1.6,20.8 1.5,19.2 Z" fill="url(#gLapB)" stroke="#0d0d0d" stroke-width="0.6"/><path d="M1.2,1.5 L14,5.2 L2.4,17 Z" fill="#fff" opacity="0.10"/></g>
<g transform="translate(413.3,331)"><path d="M2,57 L18,60.5 L10,64 L-4,61 Z" fill="#000" opacity="0.06"/><path d="M0.5,12 L5,6 L6.5,3.5 L24,0.4 L36.5,2.2 L37.5,6.2 L18,10 Z" fill="#e0e0e0" stroke="#a8a8a8" stroke-width="0.6"/><path d="M8,3.6 L24,0.8 L35,2.4 L20,5.6 Z" fill="#fafafa" stroke="#b8b8b8" stroke-width="0.4"/><path d="M12,4.1 L22,2.4 L29,3.4 L19.5,5.1 Z" fill="#d4d4d4"/><path d="M5,6 L20,5.6 L35,2.4 L36.5,2.2 L37.5,6.2 L18,10 L0.5,12 Z" fill="#d6d6d6" stroke="#a8a8a8" stroke-width="0.4"/><path d="M2.5,9.6 L9,8.6 L9,10.4 L2.2,11.5 Z" fill="#9fb0c4"/><path d="M0.5,12 L18,10 L18,60 L0.5,56.2 Z" fill="url(#gPrnS)" stroke="#b4b4b4" stroke-width="0.5"/><path d="M18,10 L37.2,6.2 L37.2,55.5 L18,60 Z" fill="url(#gPrnF)" stroke="#bcbcbc" stroke-width="0.5"/><path d="M18,10 L18,60" stroke="#f6f6f6" stroke-width="0.7" opacity="0.9"/><path d="M21.5,13.5 L34.5,11 L34.5,38 L21.5,41 Z" fill="none" stroke="#dcdcdc" stroke-width="0.5"/><path d="M0.5,37.9 L18,40.3" stroke="#aaaaaa" stroke-width="0.5" fill="none"/><path d="M13,40.8 L17,41.4 L17,42.6 L13,42.0 Z" fill="#858585"/><path d="M0.5,42.5 L18,44.9" stroke="#aaaaaa" stroke-width="0.5" fill="none"/><path d="M13,45.4 L17,46.0 L17,47.2 L13,46.6 Z" fill="#858585"/><path d="M0.5,47.1 L18,49.5" stroke="#aaaaaa" stroke-width="0.5" fill="none"/><path d="M13,50.0 L17,50.6 L17,51.8 L13,51.2 Z" fill="#858585"/><path d="M0.5,51.7 L18,54.1" stroke="#aaaaaa" stroke-width="0.5" fill="none"/><path d="M13,54.6 L17,55.2 L17,56.4 L13,55.8 Z" fill="#858585"/><rect x="17" y="59.6" width="2.4" height="2" fill="#8c8c8c"/><rect x="35" y="55.4" width="2" height="1.8" fill="#8c8c8c"/></g>
<g transform="translate(387.9,343.2)"><path d="M28,58 L40,50 L48,47 L38,57 Z" fill="#000" opacity="0.10" filter="url(#blur05)"/><path d="M-6.2,52 C-6.6,40 -3.5,31 4.5,27.6 L8,26.5 L15.5,26.5 L21,28 C29.5,31.5 33.6,40 33.2,52 C33,56.6 28,59.8 13.5,59.8 C-1,59.8 -6,56.6 -6.2,52 Z" fill="url(#gSuit)"/><path d="M5.2,27.4 L8.2,42 L11,36 L16.5,27.4 Z" fill="#ffffff"/><path d="M7,29.8 L10.8,29.6 L10.6,32.4 L10.6,42 L7.2,51.5 L4.8,44 L7.4,32.6 Z" fill="url(#gTie)"/><path d="M5.2,27.4 L1.2,33.8 L4.4,36 L2.6,38.6 L7.2,51.5 L8,44 L6.6,34 Z" fill="#b39d74"/><path d="M16.5,27.4 L22.5,33 L19,36.6 L21.6,38.6 L7.6,53.5 L8.4,47 L11.4,38 Z" fill="#a58f66"/><path d="M1.2,33.8 L4.4,36 L2.6,38.6 M22.5,33 L19,36.6 L21.6,38.6" fill="none" stroke="#7d6a48" stroke-width="0.5" opacity="0.8"/><path d="M6.5,24 L15,24 L16,27.6 Q11,31.5 6,27.6 Z" fill="#c98a52"/><ellipse cx="10.6" cy="16.6" rx="8.5" ry="11" fill="url(#gSkin)"/><path d="M1.2,11.5 C0,5 3.8,0.3 11.5,0.2 C19.5,0.1 24.3,5 22.9,13.5 C22.5,17 21.5,20 19.6,22 C20,17.5 19.4,14 17.4,11.4 C15.5,12.8 13,12.2 11.6,10.6 C9.4,11.8 5.6,11.2 3.6,9.8 C2.8,10.8 2,12 1.7,13.6 Z" fill="url(#gHairM)"/><path d="M4.4,4.4 C7.6,1.6 13,1.2 17,3.2 C13,2.8 8.4,3.2 4.4,4.4 Z" fill="#7b6b55" opacity="0.8"/></g>
<g transform="translate(361,385.5)"><path d="M27,26 L40.2,19.2 L27.5,14.5 L24,18 Z" fill="#2e2e2e"/><path d="M28.5,22.5 L35.5,18.8 L28.5,16.2 Z" fill="#151515" opacity="0.7"/><path d="M27,26 L40.2,19.2 L40.2,20.5 L27,27.6 Z" fill="#0d0d0d"/><path d="M0.2,1.6 Q0.1,-0.4 2,0.2 L24.6,6.9 Q26,7.4 26.1,9 L27.2,26 Q27.3,27.8 25.6,27.3 L3.2,21.3 Q1.6,20.8 1.5,19.2 Z" fill="url(#gLapB)" stroke="#0d0d0d" stroke-width="0.6"/><path d="M1.2,1.5 L14,5.2 L2.4,17 Z" fill="#fff" opacity="0.10"/></g>
<g transform="translate(237.5,349)"><path d="M32,57 L34,47 L43,45.5 L45,49 L37,55 Z" fill="#000" opacity="0.16" filter="url(#blur05)"/><path d="M0.4,17 C-1,6 4.6,0.2 13.2,0.2 C21.8,0.2 27.8,6 26.8,17 C26.6,22 26.5,26 26,29.8 L19,29.4 L6.5,27 C2,24 1,21 0.4,17 Z" fill="url(#gHairC)"/><path d="M-5,50 C-5.6,39.5 -3,31.5 4.4,27.6 C9,29 17,29.4 22,28 C29.6,31.5 33.6,39.5 33.2,50 C33,54.6 27.5,58.4 14,58.4 C0.6,58.4 -4.8,54.6 -5,50 Z" fill="url(#gPink)"/><g clip-path="url(#cpCust)"><path d="M1.0,30.2 Q14.8,34.199999999999996 26.6,29.799999999999997" fill="none" stroke="#fff6f6" stroke-width="1.5" opacity="0.95"/><path d="M-2.0,34.599999999999994 Q14.8,39.39999999999999 29.6,34.199999999999996" fill="none" stroke="#fff6f6" stroke-width="1.7" opacity="0.95"/><path d="M-4.0,39.4 Q15.0,44.8 32.0,39.0" fill="none" stroke="#fff6f6" stroke-width="1.7" opacity="0.95"/><path d="M-5.2,44.4 Q15.000000000000002,50.0 33.2,44.0" fill="none" stroke="#fff6f6" stroke-width="1.7" opacity="0.95"/><path d="M-5.0,49.199999999999996 Q15.2,54.4 33.4,48.8" fill="none" stroke="#fff6f6" stroke-width="1.6" opacity="0.95"/><path d="M-3.4,53.8 Q15.3,57.8 32.0,53.4" fill="none" stroke="#fff6f6" stroke-width="1.4" opacity="0.95"/><path d="M16,29 C25,31 31,38 32.5,48 C28,40 23,34 16,29 Z" fill="#fff" opacity="0.25"/></g><path d="M4.6,27.8 Q13,36.6 22.2,28 L19,22 L8,22 Z" fill="url(#gNeckC)"/><ellipse cx="11" cy="16.4" rx="7.6" ry="10.6" fill="url(#gSkinC)"/><path d="M2.6,19 C0.6,8.4 5.6,1.4 13.6,1.2 C21.6,1 27,7 26.2,17 C26,22.4 26.2,26 25.6,29.8 L19.4,29.4 C20.6,22 20,14.4 16.4,8.6 C13,11.4 8,12.2 4.6,11.4 C3.6,13.4 2.8,16 2.6,19 Z" fill="url(#gHairC)"/><path d="M12,3.4 C15.5,2.6 19.5,4 22,7.4 C18.6,5.4 15.4,4.4 12,3.4 Z" fill="#c89a4e" opacity="0.9"/><rect x="3.2" y="13.6" width="5.6" height="3.2" rx="1.2" fill="none" stroke="#f08236" stroke-width="0.8"/><rect x="10.2" y="13.9" width="6" height="3.2" rx="1.2" fill="none" stroke="#f08236" stroke-width="0.8"/><path d="M16.2,15 L19,15.6" stroke="#f08236" stroke-width="0.7"/></g>
<g transform="translate(531,345)"><path d="M27,54 L38,47 L46,44 L36,53 Z" fill="#000" opacity="0.10" filter="url(#blur05)"/><path d="M0.4,15 C-0.8,5 4.5,0.1 12.5,0.1 C20.5,0.1 26.3,5 25.2,15 L25,27.5 L18,27.5 L5,27.5 L1,27.5 Z" fill="url(#gHairW)"/><path d="M-6,49 C-6.4,38 -3.2,30 4.8,26.6 L8,25.5 L17,25.5 L20.5,26.6 C28.5,30 31.9,38 31.5,49 C31.3,52.5 26,55.4 12.8,55.4 C-0.5,55.4 -5.8,52.5 -6,49 Z" fill="url(#gMag)"/><path d="M7,26.4 L11,38.5 L19,26.4 Z" fill="#ffffff"/><path d="M9.5,27 L11.3,35 L16,27 Z" fill="#e8e0e4" opacity="0.7"/><path d="M7,26.4 L3,31.5 L11,48 L11.6,38.5 Z" fill="#e0088a" opacity="0.9"/><path d="M19,26.4 L22,31 L11,48 L11,38.5 Z" fill="#c60078" opacity="0.9"/><path d="M11,40 L11,54" stroke="#b00068" stroke-width="0.6" opacity="0.7"/><path d="M7,24 L15.5,24 L16.5,27 Q11.5,30.5 7,27 Z" fill="#c98a52"/><ellipse cx="10.8" cy="17.2" rx="7.9" ry="10.4" fill="url(#gSkin)"/><path d="M1.4,19 C-0.4,7 4.5,0.8 12.5,0.8 C20.5,0.8 25.6,6 24.6,16 L24.4,27 L19,27.5 C19.8,20 19.6,13.5 17.6,9.2 C14,11.5 7.6,12.4 3.6,11.6 C2.6,13.6 1.8,16 1.4,19 Z" fill="url(#gHairW)"/><path d="M5.4,4.2 C8.6,1.8 14,1.4 18.6,3.8 C14.5,3 9.6,3.2 5.4,4.2 Z" fill="#6a6078" opacity="0.8"/></g>
<g transform="translate(503,384.6)"><path d="M27,26 L40.2,19.2 L27.5,14.5 L24,18 Z" fill="#bcbcbc"/><path d="M28.5,22.5 L35.5,18.8 L28.5,16.2 Z" fill="#8e8e8e" opacity="0.7"/><path d="M27,26 L40.2,19.2 L40.2,20.5 L27,27.6 Z" fill="#7e7e7e"/><path d="M0.2,1.6 Q0.1,-0.4 2,0.2 L24.6,6.9 Q26,7.4 26.1,9 L27.2,26 Q27.3,27.8 25.6,27.3 L3.2,21.3 Q1.6,20.8 1.5,19.2 Z" fill="url(#gLapG)" stroke="#7e7e7e" stroke-width="0.6"/><path d="M1.2,1.5 L14,5.2 L2.4,17 Z" fill="#fff" opacity="0.25"/></g>
<text x="85.5" y="428.9" font-size="13.2" text-anchor="middle" fill="#1a1a1a" stroke="#1a1a1a" stroke-width="0.3">契約担当</text>
<text x="252" y="428.9" font-size="13.2" text-anchor="middle" fill="#1a1a1a" stroke="#1a1a1a" stroke-width="0.3">お客さま</text>
<text x="395.5" y="428.9" font-size="13.2" text-anchor="middle" fill="#1a1a1a" stroke="#1a1a1a" stroke-width="0.3">契約担当</text>
<text x="537" y="428.9" font-size="13.2" text-anchor="middle" fill="#1a1a1a" stroke="#1a1a1a" stroke-width="0.3">サポート担当</text>
</svg>
</body>
</html>
